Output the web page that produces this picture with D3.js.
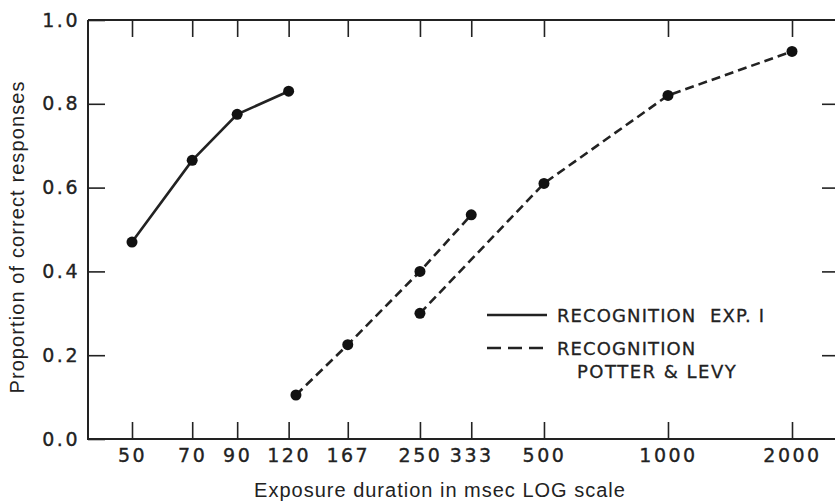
<!DOCTYPE html>
<html>
<head>
<meta charset="utf-8">
<script src="https://cdn.jsdelivr.net/npm/d3@7"></script>
<style>
  body { margin: 0; background: #fff; }
  .tick text { font-family: "DejaVu Sans", sans-serif; fill: #222; stroke: #222; stroke-width: 0.35; }
  .titulo { font-family: "Liberation Sans", Arial, sans-serif; fill: #222; }
</style>
</head>
<body>
<svg id="viz" width="835" height="502"></svg>
<script>
// Datos
var xTicks = [50, 70, 90, 120, 167, 250, 333, 500, 1000, 2000];
var yTicks = [0, 0.2, 0.4, 0.6, 0.8, 1.0];

var expDur = [50, 70, 90, 120];
var expProp = [0.47, 0.665, 0.775, 0.83];

var pl1Dur = [125, 167, 250, 333];
var pl1Prop = [0.105, 0.225, 0.40, 0.535];

var pl2Dur = [250, 500, 1000, 2000];
var pl2Prop = [0.30, 0.61, 0.82, 0.925];

var legendLabels = [["RECOGNITION  EXP. I"], ["RECOGNITION", "POTTER & LEVY"]];

var svg = d3.select("#viz"),
    mLeft = 88, mRight = 835, mTop = 20, mBottom = 439,
    ink = "#222";

var x = d3.scaleLog().domain([50, 2000]).range([132, 792]);
var y = d3.scaleLinear().domain([0, 1]).range([mBottom, mTop]);

// marco
svg.append("path")
    .attr("d", "M" + mLeft + "," + mTop + "H" + mRight + "M" + mLeft + "," + mTop + "V" + mBottom + "H" + mRight)
    .attr("fill", "none").attr("stroke", ink).attr("stroke-width", 2);

// eje x abajo
var gx = svg.append("g")
    .attr("transform", "translate(0," + mBottom + ")")
    .call(d3.axisBottom(x).tickValues(xTicks).tickFormat(d3.format("d")).tickSize(-17).tickPadding(10));
gx.select(".domain").remove();
gx.selectAll("line").attr("stroke", ink).attr("stroke-width", 1.6);
gx.selectAll("text").attr("font-size", 19).attr("letter-spacing", 2.5);

// eje x arriba (solo marcas)
var gxt = svg.append("g")
    .attr("transform", "translate(0," + mTop + ")")
    .call(d3.axisTop(x).tickValues(xTicks).tickFormat("").tickSize(-17));
gxt.select(".domain").remove();
gxt.selectAll("line").attr("stroke", ink).attr("stroke-width", 1.6);

// eje y izquierda
var gy = svg.append("g")
    .attr("transform", "translate(" + mLeft + ",0)")
    .call(d3.axisLeft(y).tickValues(yTicks).tickFormat(d3.format(".1f")).tickSize(-17).tickPadding(8));
gy.select(".domain").remove();
gy.selectAll("line").attr("stroke", ink).attr("stroke-width", 1.6);
gy.selectAll("text").attr("font-size", 19).attr("letter-spacing", 2.5);

// eje y derecha (solo marcas)
var gyr = svg.append("g")
    .attr("transform", "translate(" + mRight + ",0)")
    .call(d3.axisRight(y).tickValues(yTicks.slice(1, 5)).tickFormat("").tickSize(-13));
gyr.select(".domain").remove();
gyr.selectAll("line").attr("stroke", ink).attr("stroke-width", 1.6);

// rótulos
svg.append("text").attr("class", "titulo")
    .attr("x", 440).attr("y", 497)
    .attr("text-anchor", "middle")
    .attr("font-size", 20).attr("letter-spacing", 1)
    .text("Exposure duration in msec LOG scale");

svg.append("text").attr("class", "titulo")
    .attr("transform", "translate(24,237) rotate(-90)")
    .attr("text-anchor", "middle")
    .attr("font-size", 20).attr("letter-spacing", 1.1)
    .text("Proportion of correct responses");

// series
var line = d3.line().x(function(d) { return x(d[0]); }).y(function(d) { return y(d[1]); });
var series = [
  {dur: expDur, prop: expProp, dash: null},
  {dur: pl1Dur, prop: pl1Prop, dash: "9,5"},
  {dur: pl2Dur, prop: pl2Prop, dash: "9,5"}
];
series.forEach(function(s) {
  var pts = s.dur.map(function(d, i) { return [d, s.prop[i]]; });
  svg.append("path")
      .datum(pts)
      .attr("d", line)
      .attr("fill", "none")
      .attr("stroke", ink)
      .attr("stroke-width", 2.6)
      .attr("stroke-dasharray", s.dash);
  svg.selectAll(null).data(pts).enter().append("circle")
      .attr("cx", function(d) { return x(d[0]); })
      .attr("cy", function(d) { return y(d[1]); })
      .attr("r", 5.5)
      .attr("fill", "#111");
});

// convenciones
var leg = svg.append("g").attr("font-family", "DejaVu Sans, sans-serif")
    .attr("fill", "#222").attr("stroke", "#222").attr("stroke-width", 0.3);
leg.append("line").attr("x1", 487).attr("x2", 547).attr("y1", 315).attr("y2", 315)
    .attr("stroke", ink).attr("stroke-width", 2.4);
leg.append("line").attr("x1", 487).attr("x2", 547).attr("y1", 348).attr("y2", 348)
    .attr("stroke", ink).attr("stroke-width", 2.4).attr("stroke-dasharray", "14,7");
leg.append("text").attr("x", 557).attr("y", 322).attr("font-size", 18).attr("letter-spacing", 1.1)
    .style("white-space", "pre").text(legendLabels[0][0]);
leg.append("text").attr("x", 557).attr("y", 355).attr("font-size", 18).attr("letter-spacing", 1.1)
    .text(legendLabels[1][0]);
leg.append("text").attr("x", 577).attr("y", 378).attr("font-size", 18).attr("letter-spacing", 1.5)
    .text(legendLabels[1][1]);
</script>
</body>
</html>
